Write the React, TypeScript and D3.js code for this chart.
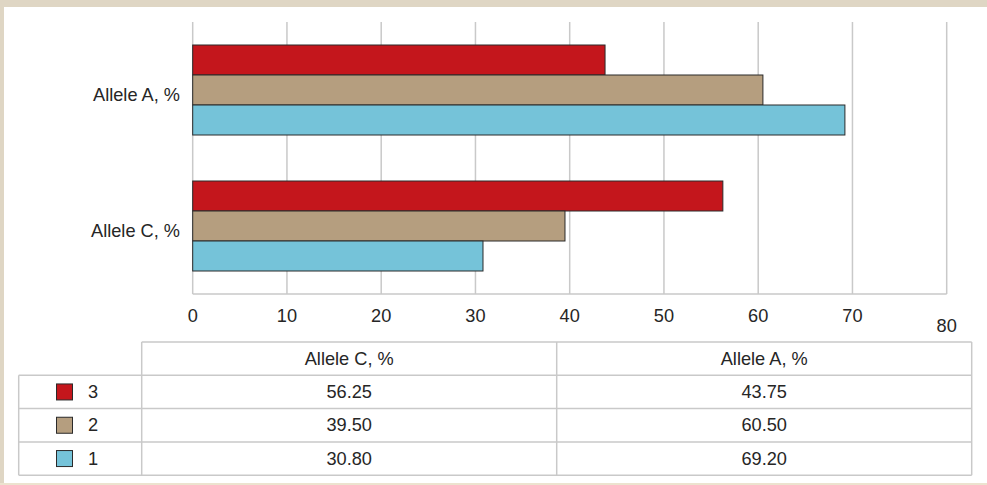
import React from "react";
import * as d3 from "d3";

// Chart data
const categories = ["Allele A, %", "Allele C, %"];
const seriesNames = ["3", "2", "1"];
const alleleA = [43.75, 60.5, 69.2]; // series 3, 2, 1
const alleleC = [56.25, 39.5, 30.8]; // series 3, 2, 1
const tableColumns = ["Allele C, %", "Allele A, %"];
const tickValues = [0, 10, 20, 30, 40, 50, 60, 70, 80];
const seriesColors = ["#c4161c", "#b59e7f", "#75c3d9"];

const W = 987;
const H = 485;
const FONT = "'Liberation Sans', Arial, Helvetica, sans-serif";
const FS = 18.2;
const TEXT = "#262626";
const GRID = "#c9c9c9";

const plot = { left: 192.7, right: 946.7, top: 22, bottom: 294 };
const table = { left: 18.7, keyRight: 141.7, right: 971.7, top: 342, rowH: 33.3 };

export default function App() {
  const x = d3.scaleLinear().domain([0, 80]).range([plot.left, plot.right]);
  const y0 = d3.scaleBand<string>().domain(categories).range([plot.top, plot.bottom]).paddingInner(0);
  const y1 = d3
    .scaleBand<string>()
    .domain(seriesNames)
    .range([0, y0.bandwidth()])
    .paddingInner(0)
    .paddingOuter(23 / 30);

  const valuesFor = (cat: string) => (cat === categories[0] ? alleleA : alleleC);
  const tableValues: Record<string, number[]> = {
    [tableColumns[0]]: alleleC,
    [tableColumns[1]]: alleleA,
  };

  const colW = (table.right - table.keyRight) / tableColumns.length;
  const rowY = (i: number) => table.top + table.rowH * (i + 1);

  return (
    <svg
      width={W}
      height={H}
      style={{ position: "absolute", left: 0, top: 0, display: "block" }}
      fontFamily={FONT}
    >
      <rect x={0} y={0} width={W} height={H} fill="#dfd6c4" />
      <rect x={0} y={483} width={W} height={2} fill="#ece3cf" />
      <rect x={4} y={7} width={W - 4} height={476} fill="#ffffff" />

      {/* grid */}
      {tickValues.map((t) => (
        <line
          key={"g" + t}
          x1={x(t)}
          x2={x(t)}
          y1={plot.top}
          y2={plot.bottom}
          stroke={GRID}
          strokeWidth={1.5}
        />
      ))}
      <line x1={plot.left} x2={plot.right} y1={plot.bottom} y2={plot.bottom} stroke={GRID} strokeWidth={1.5} />

      {/* bars */}
      {categories.map((cat) => (
        <g key={cat} transform={`translate(0,${y0(cat)})`}>
          {seriesNames.map((s, i) => (
            <rect
              key={s}
              x={x(0)}
              y={y1(s)}
              width={x(valuesFor(cat)[i]) - x(0)}
              height={y1.bandwidth()}
              fill={seriesColors[i]}
              stroke="#2a2a2a"
              strokeWidth={1}
            />
          ))}
        </g>
      ))}

      {/* category labels */}
      {categories.map((cat) => (
        <text
          key={"l" + cat}
          x={180}
          y={(y0(cat) as number) + y0.bandwidth() / 2 + 4.5}
          textAnchor="end"
          dominantBaseline="central"
          fontSize={FS}
          fill={TEXT}
        >
          {cat}
        </text>
      ))}

      {/* tick labels */}
      {tickValues.map((t, i) => (
        <text
          key={"t" + t}
          x={x(t)}
          y={i === tickValues.length - 1 ? 326 : 315.5}
          textAnchor="middle"
          dominantBaseline="central"
          fontSize={FS}
          fill={TEXT}
        >
          {t}
        </text>
      ))}

      {/* data table */}
      <g stroke={GRID} strokeWidth={1.5} fill="none">
        <line x1={table.keyRight} x2={table.right} y1={table.top} y2={table.top} />
        {seriesNames.map((_, i) => (
          <line key={"h" + i} x1={table.left} x2={table.right} y1={rowY(i)} y2={rowY(i)} />
        ))}
        <line x1={table.left} x2={table.right} y1={rowY(seriesNames.length)} y2={rowY(seriesNames.length)} />
        <line x1={table.left} x2={table.left} y1={rowY(0)} y2={rowY(seriesNames.length)} />
        <line x1={table.keyRight} x2={table.keyRight} y1={table.top} y2={rowY(seriesNames.length)} />
        {tableColumns.map((_, j) => (
          <line
            key={"v" + j}
            x1={table.keyRight + colW * (j + 1)}
            x2={table.keyRight + colW * (j + 1)}
            y1={table.top}
            y2={rowY(seriesNames.length)}
          />
        ))}
      </g>

      {tableColumns.map((c, j) => (
        <text
          key={"c" + c}
          x={table.keyRight + colW * (j + 0.5)}
          y={table.top + table.rowH / 2}
          textAnchor="middle"
          dominantBaseline="central"
          fontSize={FS}
          fill={TEXT}
        >
          {c}
        </text>
      ))}

      {seriesNames.map((s, i) => {
        const cy = rowY(i) + table.rowH / 2;
        return (
          <g key={"r" + s}>
            <rect x={56.5} y={cy - 8} width={16} height={16} fill={seriesColors[i]} stroke="#2a2a2a" strokeWidth={1} />
            <text x={93} y={cy} textAnchor="middle" dominantBaseline="central" fontSize={FS} fill={TEXT}>
              {s}
            </text>
            {tableColumns.map((c, j) => (
              <text
                key={c}
                x={table.keyRight + colW * (j + 0.5)}
                y={cy}
                textAnchor="middle"
                dominantBaseline="central"
                fontSize={FS}
                fill={TEXT}
              >
                {tableValues[c][i].toFixed(2)}
              </text>
            ))}
          </g>
        );
      })}
    </svg>
  );
}
